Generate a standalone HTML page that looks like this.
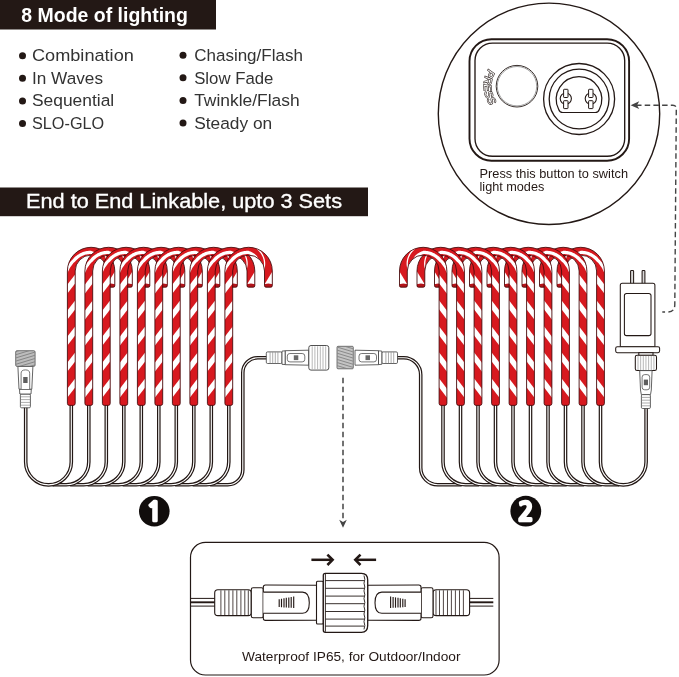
<!DOCTYPE html>
<html lang="en"><head><meta charset="utf-8"><title>8 Mode of lighting</title>
<style>html,body{margin:0;padding:0;background:#fff}body{width:679px;height:677px;overflow:hidden}svg{display:block;will-change:transform}text{font-family:"Liberation Sans","DejaVu Sans",sans-serif}</style>
</head><body>
<svg width="679" height="677" viewBox="0 0 679 677">
<rect width="679" height="677" fill="#fff"/>
<defs>
<clipPath id="cc"><path d="M-3.9 403.4 L-3.9 271 A23.7 23.7 0 0 1 43.5 271 L43.5 285.7 Q43.5 287.2 42 287.2 L37.2 287.2 Q35.7 287.2 35.7 285.7 L35.7 271 A15.9 15.9 0 0 0 3.9 271 L3.9 403.4 Q3.9 405.4 1.9 405.4 L-1.9 405.4 Q-3.9 405.4 -3.9 403.4 Z"/></clipPath>
<g id="cane">
<path d="M-3.9 403.4 L-3.9 271 A23.7 23.7 0 0 1 43.5 271 L43.5 285.7 Q43.5 287.2 42 287.2 L37.2 287.2 Q35.7 287.2 35.7 285.7 L35.7 271 A15.9 15.9 0 0 0 3.9 271 L3.9 403.4 Q3.9 405.4 1.9 405.4 L-1.9 405.4 Q-3.9 405.4 -3.9 403.4 Z" fill="#d7191f"/>
<g clip-path="url(#cc)" fill="#fff">
<path d="M-4.4 398.2 L4.4 386.7 L4.4 377.7 L-4.4 389.2 Z"/>
<path d="M-4.4 372.2 L4.4 360.7 L4.4 351.7 L-4.4 363.2 Z"/>
<path d="M-4.4 346.2 L4.4 334.7 L4.4 325.7 L-4.4 337.2 Z"/>
<path d="M-4.4 320.2 L4.4 308.7 L4.4 299.7 L-4.4 311.2 Z"/>
<path d="M-4.4 294.2 L4.4 282.7 L4.4 273.7 L-4.4 285.2 Z"/>
<path d="M-4.4 424.2 L4.4 412.7 L4.4 403.7 L-4.4 415.2 Z"/>
<path d="M-16.35 295 L-15.93 294 L-15.51 293 L-15.09 292 L-14.67 291 L-14.25 290 L-13.84 289 L-13.42 288 L-13 287 L-12.58 286 L-12.16 285 L-11.74 284 L-11.32 283 L-10.9 282 L-10.48 281 L-10.06 280 L-9.65 279 L-9.23 278 L-8.81 277 L-8.39 276 L-7.97 275 L-7.55 274 L-7.1 273 L-6.65 272 L-6.2 271 L-5.72 269.71 L-5.17 268.47 L-4.57 267.28 L-3.91 266.14 L-3.2 265.07 L-2.55 264.01 L-1.86 263.01 L-1.12 262.06 L-0.34 261.16 L0.47 260.31 L1.32 259.53 L2.02 258.68 L2.75 257.86 L3.52 257.09 L4.33 256.37 L5.17 255.69 L6.03 255.06 L6.93 254.47 L7.81 253.89 L8.72 253.36 L9.66 252.88 L10.61 252.45 L11.59 252.06 L12.58 251.73 L13.58 251.45 L14.59 251.22 L15.6 251.04 L16.63 250.91 L17.65 250.84 L18.68 250.82 L19.7 250.85 L20.7 251.17 L21.67 251.54 L22.61 251.96 L23.51 252.42 L24.37 252.92 L25.19 253.46 L25.96 254.03 L26.69 254.64 L27.38 255.28 L27.97 256.04 L28.51 256.81 L28.99 257.6 L29.41 258.4 L29.78 259.2 L30.09 260.01 L30.34 260.82 L27.97 263.12 L27.83 262.42 L27.65 261.72 L27.41 261.02 L27.12 260.32 L26.78 259.62 L26.39 258.93 L25.95 258.26 L25.41 257.68 L24.84 257.14 L24.22 256.61 L23.56 256.12 L22.86 255.65 L22.13 255.22 L21.36 254.82 L20.55 254.47 L19.71 254.15 L18.86 254.11 L18 254.12 L17.14 254.17 L16.28 254.27 L15.43 254.41 L14.58 254.59 L13.73 254.82 L12.9 255.09 L12.08 255.4 L11.27 255.76 L10.48 256.16 L9.71 256.6 L8.95 257.08 L8.19 257.55 L7.45 258.07 L6.73 258.64 L6.03 259.24 L5.37 259.88 L4.73 260.56 L4.12 261.27 L3.36 261.91 L2.62 262.61 L1.92 263.35 L1.24 264.15 L0.6 265 L-0 265.89 L-0.67 266.81 L-1.31 267.78 L-1.89 268.8 L-2.42 269.88 L-2.9 271 L-3.35 272 L-3.8 273 L-4.25 274 L-4.67 275 L-5.09 276 L-5.51 277 L-5.93 278 L-6.35 279 L-6.76 280 L-7.18 281 L-7.6 282 L-8.02 283 L-8.44 284 L-8.86 285 L-9.28 286 L-9.7 287 L-10.12 288 L-10.54 289 L-10.95 290 L-11.37 291 L-11.79 292 L-12.21 293 L-12.63 294 L-13.05 295 Z"/>
<path d="M27.56 247.13 L28.71 248.03 L29.79 248.98 L30.79 249.98 L31.71 251.02 L32.55 252.1 L33.31 253.21 L33.98 254.34 L34.57 255.49 L35.08 256.65 L35.5 257.82 L35.85 259 L36.11 260.16 L36.29 261.32 L36.4 262.47 L36.43 263.6 L36.38 264.7 L36.27 265.78 L36.09 266.82 L35.85 267.82 L35.55 268.79 L34.16 268.98 L34.48 268.09 L34.74 267.17 L34.94 266.2 L35.08 265.2 L35.15 264.17 L35.15 263.11 L35.08 262.03 L34.94 260.94 L34.73 259.83 L34.43 258.72 L34.06 257.61 L33.61 256.5 L33.07 255.4 L32.46 254.32 L31.77 253.26 L30.99 252.22 L30.14 251.22 L29.21 250.25 L28.2 249.33 L27.12 248.46 Z"/>
<path d="M35.8 284.2 L44 270.8 L44 284.2 Z"/>
<ellipse cx="39.6" cy="285.4" rx="3.9" ry="1.9" fill="#b3141a"/>
</g>
<path d="M-3.9 403.4 L-3.9 271 A23.7 23.7 0 0 1 43.5 271 L43.5 285.7 Q43.5 287.2 42 287.2 L37.2 287.2 Q35.7 287.2 35.7 285.7 L35.7 271 A15.9 15.9 0 0 0 3.9 271 L3.9 403.4 Q3.9 405.4 1.9 405.4 L-1.9 405.4 Q-3.9 405.4 -3.9 403.4 Z" fill="none" stroke="#40080a" stroke-width="0.85"/>
</g>
<g id="setwires" fill="none">
<path d="M228.8 403.4 L228.8 462.05 A22.65 22.65 0 0 1 206.15 484.7 L192.65 484.7" stroke="#231815" stroke-width="3.6"/><path d="M228.8 403.4 L228.8 462.05 A22.65 22.65 0 0 1 206.15 484.7 L192.65 484.7" stroke="#fff" stroke-width="1.15"/>
<path d="M211.3 403.4 L211.3 462.05 A22.65 22.65 0 0 1 188.65 484.7 L175.15 484.7" stroke="#231815" stroke-width="3.6"/><path d="M211.3 403.4 L211.3 462.05 A22.65 22.65 0 0 1 188.65 484.7 L175.15 484.7" stroke="#fff" stroke-width="1.15"/>
<path d="M193.8 403.4 L193.8 462.05 A22.65 22.65 0 0 1 171.15 484.7 L157.65 484.7" stroke="#231815" stroke-width="3.6"/><path d="M193.8 403.4 L193.8 462.05 A22.65 22.65 0 0 1 171.15 484.7 L157.65 484.7" stroke="#fff" stroke-width="1.15"/>
<path d="M176.3 403.4 L176.3 462.05 A22.65 22.65 0 0 1 153.65 484.7 L140.15 484.7" stroke="#231815" stroke-width="3.6"/><path d="M176.3 403.4 L176.3 462.05 A22.65 22.65 0 0 1 153.65 484.7 L140.15 484.7" stroke="#fff" stroke-width="1.15"/>
<path d="M158.8 403.4 L158.8 462.05 A22.65 22.65 0 0 1 136.15 484.7 L122.65 484.7" stroke="#231815" stroke-width="3.6"/><path d="M158.8 403.4 L158.8 462.05 A22.65 22.65 0 0 1 136.15 484.7 L122.65 484.7" stroke="#fff" stroke-width="1.15"/>
<path d="M141.3 403.4 L141.3 462.05 A22.65 22.65 0 0 1 118.65 484.7 L105.15 484.7" stroke="#231815" stroke-width="3.6"/><path d="M141.3 403.4 L141.3 462.05 A22.65 22.65 0 0 1 118.65 484.7 L105.15 484.7" stroke="#fff" stroke-width="1.15"/>
<path d="M123.8 403.4 L123.8 462.05 A22.65 22.65 0 0 1 101.15 484.7 L87.65 484.7" stroke="#231815" stroke-width="3.6"/><path d="M123.8 403.4 L123.8 462.05 A22.65 22.65 0 0 1 101.15 484.7 L87.65 484.7" stroke="#fff" stroke-width="1.15"/>
<path d="M106.3 403.4 L106.3 462.05 A22.65 22.65 0 0 1 83.65 484.7 L70.15 484.7" stroke="#231815" stroke-width="3.6"/><path d="M106.3 403.4 L106.3 462.05 A22.65 22.65 0 0 1 83.65 484.7 L70.15 484.7" stroke="#fff" stroke-width="1.15"/>
<path d="M88.8 403.4 L88.8 462.05 A22.65 22.65 0 0 1 66.15 484.7 L52.65 484.7" stroke="#231815" stroke-width="3.6"/><path d="M88.8 403.4 L88.8 462.05 A22.65 22.65 0 0 1 66.15 484.7 L52.65 484.7" stroke="#fff" stroke-width="1.15"/>
<path d="M71.3 403.4 L71.3 462.05 A22.8 22.8 0 0 1 25.7 462.05 L25.7 406" stroke="#231815" stroke-width="3.6"/><path d="M71.3 403.4 L71.3 462.05 A22.8 22.8 0 0 1 25.7 462.05 L25.7 406" stroke="#fff" stroke-width="1.15"/>
</g>
<g id="canes">
<use href="#cane" x="71.3"/>
<use href="#cane" x="88.8"/>
<use href="#cane" x="106.3"/>
<use href="#cane" x="123.8"/>
<use href="#cane" x="141.3"/>
<use href="#cane" x="158.8"/>
<use href="#cane" x="176.3"/>
<use href="#cane" x="193.8"/>
<use href="#cane" x="211.3"/>
<use href="#cane" x="228.8"/>
</g>
</defs>
<rect x="0" y="0" width="216" height="29.5" fill="#231815"/>
<text x="21.3" y="22" font-size="20.6" font-weight="bold" fill="#fff" textLength="166.6" lengthAdjust="spacingAndGlyphs">8 Mode of lighting</text>
<rect x="0" y="187.5" width="368" height="28.7" fill="#231815"/>
<text x="26" y="208" font-size="21" fill="#fff" stroke="#fff" stroke-width="0.35" textLength="316" lengthAdjust="spacingAndGlyphs">End to End Linkable, upto 3 Sets</text>
<circle cx="22.5" cy="55.7" r="3.5" fill="#231815"/>
<text x="32" y="61.2" font-size="17.4" fill="#333" textLength="101.8" lengthAdjust="spacingAndGlyphs">Combination</text>
<circle cx="22.5" cy="78.3" r="3.5" fill="#231815"/>
<text x="32" y="83.8" font-size="17.4" fill="#333" textLength="71" lengthAdjust="spacingAndGlyphs">In Waves</text>
<circle cx="22.5" cy="100.9" r="3.5" fill="#231815"/>
<text x="32" y="106.4" font-size="17.4" fill="#333" textLength="82.2" lengthAdjust="spacingAndGlyphs">Sequential</text>
<circle cx="22.5" cy="123.5" r="3.5" fill="#231815"/>
<text x="32" y="129" font-size="17.4" fill="#333" textLength="72.2" lengthAdjust="spacingAndGlyphs">SLO-GLO</text>
<circle cx="183" cy="55.2" r="3.5" fill="#231815"/>
<text x="194.2" y="60.9" font-size="17.4" fill="#333" textLength="108.7" lengthAdjust="spacingAndGlyphs">Chasing/Flash</text>
<circle cx="183" cy="77.8" r="3.5" fill="#231815"/>
<text x="194.2" y="83.5" font-size="17.4" fill="#333" textLength="79.2" lengthAdjust="spacingAndGlyphs">Slow Fade</text>
<circle cx="183" cy="100.4" r="3.5" fill="#231815"/>
<text x="194.2" y="106.1" font-size="17.4" fill="#333" textLength="105.5" lengthAdjust="spacingAndGlyphs">Twinkle/Flash</text>
<circle cx="183" cy="123" r="3.5" fill="#231815"/>
<text x="194.2" y="128.7" font-size="17.4" fill="#333" textLength="78" lengthAdjust="spacingAndGlyphs">Steady on</text>
<g fill="none" stroke="#231815">
<circle cx="549" cy="113.8" r="110.7" stroke-width="1.4" fill="#fff"/>
<rect x="469.5" y="39.2" width="159.6" height="121.5" rx="22" ry="22" stroke-width="1.9"/>
<rect x="475" y="43.1" width="149.7" height="113.2" rx="17.5" ry="17.5" stroke-width="1.35"/>
<circle cx="517" cy="86.2" r="20.8" stroke-width="0.9"/>
<circle cx="517" cy="86.2" r="19.7" stroke-width="0.8" stroke="#888"/>
<circle cx="579.1" cy="99" r="35.5" stroke-width="1.3"/>
<circle cx="579.1" cy="99" r="29.9" stroke-width="1.3"/>
<path d="M558.72 109.5 A22.7 22.7 0 1 1 599.28 109.5 Q598.28 112.5 595.28 112.5 L562.72 112.5 Q559.72 112.5 558.72 109.5 Z" stroke-width="1.2"/>
<circle cx="565.8" cy="98.6" r="5.6" stroke-width="1.1" fill="#fff"/>
<rect x="563.6" y="89.3" width="4.4" height="8.2" rx="0.6" stroke-width="1" fill="#fff"/>
<rect x="563.6" y="100.7" width="4.4" height="7.9" rx="0.6" stroke-width="1" fill="#fff"/>
<circle cx="590.8" cy="98.6" r="5.6" stroke-width="1.1" fill="#fff"/>
<rect x="588.6" y="89.3" width="4.4" height="8.2" rx="0.6" stroke-width="1" fill="#fff"/>
<rect x="588.6" y="100.7" width="4.4" height="7.9" rx="0.6" stroke-width="1" fill="#fff"/>
</g>
<path id="pressarc" d="M488.6 68.6 A33 33 0 0 0 491.6 107.6" fill="none"/>
<g opacity="0.99"><text font-size="11.4" font-weight="bold" font-style="italic" fill="#fff" stroke="#231815" stroke-width="0.6" letter-spacing="0.15"><textPath href="#pressarc" startOffset="0.3">PRESS</textPath></text></g>
<text x="479.5" y="177.5" font-size="12.9" fill="#231815" textLength="148.5" lengthAdjust="spacingAndGlyphs">Press this button to switch</text>
<text x="479.5" y="190.6" font-size="12.9" fill="#231815" textLength="64.8" lengthAdjust="spacingAndGlyphs">light modes</text>
<path d="M636 105.2 L672.8 105.2 Q676.3 105.2 676.3 108.7 L674.8 304.5 Q674.8 312 667.6 312 L662.3 312" fill="none" stroke="#444" stroke-width="1.4" stroke-dasharray="5.5 3.2"/>
<path d="M630.6 105.2 L639.2 101.3 L637 105.2 L639.2 109.1 Z" fill="#444"/>
<path d="M343 377.8 L343 520" fill="none" stroke="#444" stroke-width="1.5" stroke-dasharray="5.5 3.5"/>
<path d="M343 527.8 L339.2 519.8 L343 522 L346.8 519.8 Z" fill="#444"/>
<path d="M267 357.7 L257.8 357.7 A15 15 0 0 0 242.8 372.7 L242.8 469.7 A15 15 0 0 1 227.8 484.7 L210.15 484.7" fill="none" stroke="#231815" stroke-width="3.6"/><path d="M267 357.7 L257.8 357.7 A15 15 0 0 0 242.8 372.7 L242.8 469.7 A15 15 0 0 1 227.8 484.7 L210.15 484.7" fill="none" stroke="#fff" stroke-width="1.15"/>
<use href="#setwires"/>
<use href="#canes"/>
<path d="M397 357.7 L403.7 357.7 A17 17 0 0 1 420.7 374.7 L420.7 467.7 A17 17 0 0 0 437.7 484.7 L461.65 484.7" fill="none" stroke="#231815" stroke-width="3.6"/><path d="M397 357.7 L403.7 357.7 A17 17 0 0 1 420.7 374.7 L420.7 467.7 A17 17 0 0 0 437.7 484.7 L461.65 484.7" fill="none" stroke="#fff" stroke-width="1.15"/>
<g transform="translate(671.8 0) scale(-1 1)">
<use href="#setwires"/>
<use href="#canes"/>
</g>
<rect x="266.3" y="351.9" width="15.7" height="11.6" rx="1.3" fill="#fff" stroke="#3c3c3c" stroke-width="0.8"/><path d="M270.1 352.1 V363.3" stroke="#8a8a8a" stroke-width="0.7"/><path d="M272.7 352.1 V363.3" stroke="#8a8a8a" stroke-width="0.7"/><path d="M275.3 352.1 V363.3" stroke="#8a8a8a" stroke-width="0.7"/><path d="M277.9 352.1 V363.3" stroke="#8a8a8a" stroke-width="0.7"/><path d="M282 351.1 L285.3 350.8 L285.3 364.6 L282 364.3 Z" fill="#fff" stroke="#3c3c3c" stroke-width="0.8"/><path d="M285.3 350.7 L308.8 350.2 L308.8 365.2 L285.3 364.7 Z" fill="#fff" stroke="#3c3c3c" stroke-width="0.8"/><rect x="287.3" y="353.5" width="17.5" height="8.4" rx="2.6" fill="#fff" stroke="#3c3c3c" stroke-width="0.7"/><rect x="293.8" y="355.3" width="4.5" height="4.8" fill="#6a6a6a"/>
<rect x="308.8" y="345.5" width="20" height="24.6" rx="2.2" fill="#fff" stroke="#3c3c3c" stroke-width="0.9"/>
<path d="M312.2 346.3 V369.3" stroke="#9a9a9a" stroke-width="0.7"/>
<path d="M314.9 346.3 V369.3" stroke="#9a9a9a" stroke-width="0.7"/>
<path d="M317.6 346.3 V369.3" stroke="#9a9a9a" stroke-width="0.7"/>
<path d="M320.3 346.3 V369.3" stroke="#9a9a9a" stroke-width="0.7"/>
<path d="M323 346.3 V369.3" stroke="#9a9a9a" stroke-width="0.7"/>
<path d="M325.7 346.3 V369.3" stroke="#9a9a9a" stroke-width="0.7"/>
<rect x="381.8" y="351.9" width="15.7" height="11.6" rx="1.3" fill="#fff" stroke="#3c3c3c" stroke-width="0.8"/><path d="M393.7 352.1 V363.3" stroke="#8a8a8a" stroke-width="0.7"/><path d="M391.1 352.1 V363.3" stroke="#8a8a8a" stroke-width="0.7"/><path d="M388.5 352.1 V363.3" stroke="#8a8a8a" stroke-width="0.7"/><path d="M385.9 352.1 V363.3" stroke="#8a8a8a" stroke-width="0.7"/><path d="M381.8 351.1 L378.5 350.8 L378.5 364.6 L381.8 364.3 Z" fill="#fff" stroke="#3c3c3c" stroke-width="0.8"/><path d="M378.5 350.7 L355 350.2 L355 365.2 L378.5 364.7 Z" fill="#fff" stroke="#3c3c3c" stroke-width="0.8"/><rect x="359" y="353.5" width="17.5" height="8.4" rx="2.6" fill="#fff" stroke="#3c3c3c" stroke-width="0.7"/><rect x="365.5" y="355.3" width="4.5" height="4.8" fill="#6a6a6a"/>
<rect x="337" y="346.3" width="16.3" height="22.5" rx="1" fill="#c4c4c4" stroke="#555" stroke-width="0.8"/>
<g stroke="#7a7a7a" stroke-width="0.8" clip-path="url(#thr1)">
<clipPath id="thr1"><rect x="337.4" y="346.7" width="15.5" height="21.7"/></clipPath>
<path d="M337 343.9 L353.5 348.9"/>
<path d="M337 347 L353.5 352"/>
<path d="M337 350.1 L353.5 355.1"/>
<path d="M337 353.2 L353.5 358.2"/>
<path d="M337 356.3 L353.5 361.3"/>
<path d="M337 359.4 L353.5 364.4"/>
<path d="M337 362.5 L353.5 367.5"/>
<path d="M337 365.6 L353.5 370.6"/>
<path d="M337 368.7 L353.5 373.7"/>
<path d="M337 371.8 L353.5 376.8"/>
</g>
<rect x="20.4" y="394" width="10" height="13.8" rx="1.2" fill="#fff" stroke="#3c3c3c" stroke-width="0.8"/><path d="M20.6 396.8 H30.2" stroke="#8a8a8a" stroke-width="0.7"/><path d="M20.6 399.6 H30.2" stroke="#8a8a8a" stroke-width="0.7"/><path d="M20.6 402.4 H30.2" stroke="#8a8a8a" stroke-width="0.7"/><path d="M20.6 405.2 H30.2" stroke="#8a8a8a" stroke-width="0.7"/><path d="M19.8 394 L19.5 389.2 L31.3 389.2 L31 394 Z" fill="#fff" stroke="#3c3c3c" stroke-width="0.8"/><path d="M19 389.2 L17.9 366.4 L32.9 366.4 L31.8 389.2 Z" fill="#fff" stroke="#3c3c3c" stroke-width="0.8"/><path d="M21.1 389 V373.3 a4.3 3.4 0 0 1 8.6 0 V389" fill="#fff" stroke="#3c3c3c" stroke-width="0.7"/><rect x="23.2" y="377" width="4.4" height="6" fill="#5f5f5f"/>
<rect x="15.7" y="350.7" width="19.4" height="15.7" rx="1.3" fill="#bdbdbd" stroke="#555" stroke-width="0.8"/>
<clipPath id="thr2"><rect x="16.1" y="351.1" width="18.6" height="14.9"/></clipPath>
<g stroke="#777" stroke-width="0.8" clip-path="url(#thr2)">
<path d="M15.5 351.6 L35.3 345.6"/>
<path d="M15.5 354.8 L35.3 348.8"/>
<path d="M15.5 358 L35.3 352"/>
<path d="M15.5 361.2 L35.3 355.2"/>
<path d="M15.5 364.4 L35.3 358.4"/>
<path d="M15.5 367.6 L35.3 361.6"/>
<path d="M15.5 370.8 L35.3 364.8"/>
<path d="M15.5 374 L35.3 368"/>
<path d="M15.5 377.2 L35.3 371.2"/>
</g>
<g fill="#fff" stroke="#231815" stroke-width="1.05">
<rect x="630.6" y="270.5" width="3" height="14" rx="0.8" fill="#d9d9d9"/>
<rect x="642.1" y="270.5" width="2.8" height="14" rx="0.8" fill="#d9d9d9"/>
<path d="M620.3 346.8 L620.3 285.3 Q620.3 283.3 622.3 283.3 L652.9 283.3 Q654.9 283.3 654.9 285.3 L654.9 346.8 Z"/>
<rect x="624.4" y="293.4" width="26.6" height="42.2" rx="2.2"/>
<rect x="615.7" y="346.7" width="43.9" height="6" rx="1.6"/>
<rect x="638.8" y="352.7" width="14.2" height="2.7"/>
<rect x="635.3" y="355.3" width="21.2" height="15.3" rx="1.8"/>
</g>
<path d="M638 356 V370" stroke="#9a9a9a" stroke-width="0.7"/>
<path d="M640.65 356 V370" stroke="#9a9a9a" stroke-width="0.7"/>
<path d="M643.3 356 V370" stroke="#9a9a9a" stroke-width="0.7"/>
<path d="M645.95 356 V370" stroke="#9a9a9a" stroke-width="0.7"/>
<path d="M648.6 356 V370" stroke="#9a9a9a" stroke-width="0.7"/>
<path d="M651.25 356 V370" stroke="#9a9a9a" stroke-width="0.7"/>
<path d="M653.9 356 V370" stroke="#9a9a9a" stroke-width="0.7"/>
<path d="M639.7 370.6 L640.5 390 L641.3 394.6 L650.5 394.6 L651.3 390 L652.1 370.6 Z" fill="#fff" stroke="#3c3c3c" stroke-width="0.8"/>
<rect x="642.1" y="374.6" width="7.6" height="15.2" rx="2.6" fill="#fff" stroke="#3c3c3c" stroke-width="0.7"/>
<rect x="643.8" y="379.6" width="4.2" height="5.6" fill="#5f5f5f"/>
<rect x="641.4" y="394.6" width="9" height="13.9" rx="1.2" fill="#fff" stroke="#3c3c3c" stroke-width="0.8"/>
<path d="M641.6 397.4 H650.2" stroke="#8a8a8a" stroke-width="0.7"/>
<path d="M641.6 400.2 H650.2" stroke="#8a8a8a" stroke-width="0.7"/>
<path d="M641.6 403 H650.2" stroke="#8a8a8a" stroke-width="0.7"/>
<path d="M641.6 405.8 H650.2" stroke="#8a8a8a" stroke-width="0.7"/>
<circle cx="154.3" cy="511.3" r="15.3" fill="#110d0c"/>
<text x="146.2" y="521.1" font-size="26.8" font-weight="bold" fill="#fff" stroke="#fff" stroke-width="2.6" stroke-linejoin="miter" style="font-family:'NanumGothic','Liberation Sans',sans-serif">1</text>
<circle cx="525.8" cy="511.2" r="15.4" fill="#110d0c"/>
<text x="518.1" y="521.1" font-size="26.8" font-weight="bold" fill="#fff" stroke="#fff" stroke-width="2.6" stroke-linejoin="miter" textLength="15.6" lengthAdjust="spacingAndGlyphs" style="font-family:'NanumGothic','Liberation Sans',sans-serif">2</text>
<rect x="190.5" y="542.4" width="308.6" height="132.6" rx="15" fill="#fff" stroke="#231815" stroke-width="1.2"/>
<g><path d="M191 598.4 H215 M191 606.1 H215" stroke="#231815" stroke-width="1" fill="none"/><path d="M191 602.3 H215" stroke="#231815" stroke-width="1.9" fill="none"/><rect x="214.7" y="589.8" width="36.6" height="25.8" rx="3.2" fill="#fff" stroke="#231815" stroke-width="1.1"/><path d="M220.9 590.3 V615.1" stroke="#231815" stroke-width="0.8"/><path d="M224.8 590.3 V615.1" stroke="#231815" stroke-width="0.8"/><path d="M228.9 590.3 V615.1" stroke="#231815" stroke-width="0.8"/><path d="M232.9 590.3 V615.1" stroke="#231815" stroke-width="0.8"/><path d="M236.8 590.3 V615.1" stroke="#231815" stroke-width="0.8"/><path d="M240.9 590.3 V615.1" stroke="#231815" stroke-width="0.8"/><path d="M244.8 590.3 V615.1" stroke="#231815" stroke-width="0.8"/><path d="M248.3 590.3 V615.1" stroke="#231815" stroke-width="0.8"/><rect x="251.3" y="587.7" width="12" height="30" rx="1.8" fill="#fff" stroke="#231815" stroke-width="1.1"/><path d="M316.7 585.2 L265.5 585 Q263.3 585 263.3 587.2 L263.3 618.2 Q263.3 620.4 265.5 620.4 L316.7 620.2 Z" fill="#fff" stroke="#231815" stroke-width="1.1"/><path d="M263.3 592.1 H302.5 Q309.3 592.1 309.3 602.7 Q309.3 613.3 302.5 613.3 H263.3" fill="#fff" stroke="#231815" stroke-width="1.1"/><path d="M279.2 599.2 V607.1" stroke="#231815" stroke-width="1.15"/><path d="M281.5 598.75 V607.25" stroke="#231815" stroke-width="1.15"/><path d="M284 598.3 V607.4" stroke="#231815" stroke-width="1.15"/><path d="M286.3 597.85 V607.55" stroke="#231815" stroke-width="1.15"/><path d="M288.8 597.4 V607.7" stroke="#231815" stroke-width="1.15"/><path d="M291.2 596.95 V607.85" stroke="#231815" stroke-width="1.15"/><path d="M293.7 596.5 V608" stroke="#231815" stroke-width="1.15"/></g><g transform="translate(684.3 0) scale(-1 1)"><path d="M191 598.4 H215 M191 606.1 H215" stroke="#231815" stroke-width="1" fill="none"/><path d="M191 602.3 H215" stroke="#231815" stroke-width="1.9" fill="none"/><rect x="214.7" y="589.8" width="36.6" height="25.8" rx="3.2" fill="#fff" stroke="#231815" stroke-width="1.1"/><path d="M220.9 590.3 V615.1" stroke="#231815" stroke-width="0.8"/><path d="M224.8 590.3 V615.1" stroke="#231815" stroke-width="0.8"/><path d="M228.9 590.3 V615.1" stroke="#231815" stroke-width="0.8"/><path d="M232.9 590.3 V615.1" stroke="#231815" stroke-width="0.8"/><path d="M236.8 590.3 V615.1" stroke="#231815" stroke-width="0.8"/><path d="M240.9 590.3 V615.1" stroke="#231815" stroke-width="0.8"/><path d="M244.8 590.3 V615.1" stroke="#231815" stroke-width="0.8"/><path d="M248.3 590.3 V615.1" stroke="#231815" stroke-width="0.8"/><rect x="251.3" y="587.7" width="12" height="30" rx="1.8" fill="#fff" stroke="#231815" stroke-width="1.1"/><path d="M316.7 585.2 L265.5 585 Q263.3 585 263.3 587.2 L263.3 618.2 Q263.3 620.4 265.5 620.4 L316.7 620.2 Z" fill="#fff" stroke="#231815" stroke-width="1.1"/><path d="M263.3 592.1 H302.5 Q309.3 592.1 309.3 602.7 Q309.3 613.3 302.5 613.3 H263.3" fill="#fff" stroke="#231815" stroke-width="1.1"/><path d="M279.2 599.2 V607.1" stroke="#231815" stroke-width="1.15"/><path d="M281.5 598.75 V607.25" stroke="#231815" stroke-width="1.15"/><path d="M284 598.3 V607.4" stroke="#231815" stroke-width="1.15"/><path d="M286.3 597.85 V607.55" stroke="#231815" stroke-width="1.15"/><path d="M288.8 597.4 V607.7" stroke="#231815" stroke-width="1.15"/><path d="M291.2 596.95 V607.85" stroke="#231815" stroke-width="1.15"/><path d="M293.7 596.5 V608" stroke="#231815" stroke-width="1.15"/></g><rect x="316.5" y="581.2" width="6.8" height="42.8" rx="1" fill="#fff" stroke="#231815" stroke-width="1.1"/><path d="M325.3 573.3 H361.5 Q367.7 573.3 367.7 580 V625.6 Q367.7 632.3 361.5 632.3 H325.3 Q323.3 632.3 323.3 630.3 V575.3 Q323.3 573.3 325.3 573.3 Z" fill="#fff" stroke="#231815" stroke-width="1.3"/><path d="M325.4 573.8 V631.8" stroke="#231815" stroke-width="0.9"/><path d="M325.4 580.6 H364" stroke="#231815" stroke-width="0.9"/><path d="M325.4 588.3 H364" stroke="#231815" stroke-width="0.9"/><path d="M325.4 596.1 H364" stroke="#231815" stroke-width="0.9"/><path d="M325.4 603.7 H364" stroke="#231815" stroke-width="0.9"/><path d="M325.4 611.5 H364" stroke="#231815" stroke-width="0.9"/><path d="M325.4 619.1 H364" stroke="#231815" stroke-width="0.9"/><path d="M325.4 626.1 H364" stroke="#231815" stroke-width="0.9"/><path d="M364 575.5 Q365.6 579.35 364 583.2 Q365.6 587.05 364 590.9 Q365.6 594.75 364 598.6 Q365.6 602.45 364 606.3 Q365.6 610.15 364 614 Q365.6 617.85 364 621.7 Q365.6 625.55 364 629.4" fill="none" stroke="#231815" stroke-width="0.9"/><path d="M311.4 559.8 H331" stroke="#231815" stroke-width="2.5" fill="none"/><path d="M327.4 554.6 L332.6 559.8 L327.4 565" stroke="#231815" stroke-width="2.6" fill="none" stroke-linejoin="miter"/><path d="M376.1 559.8 H357" stroke="#231815" stroke-width="2.5" fill="none"/><path d="M360.5 554.6 L355.3 559.8 L360.5 565" stroke="#231815" stroke-width="2.6" fill="none" stroke-linejoin="miter"/>
<text x="242" y="660.5" font-size="13.4" fill="#231815" textLength="218.5" lengthAdjust="spacingAndGlyphs">Waterproof IP65, for Outdoor/Indoor</text>
</svg></body></html>
